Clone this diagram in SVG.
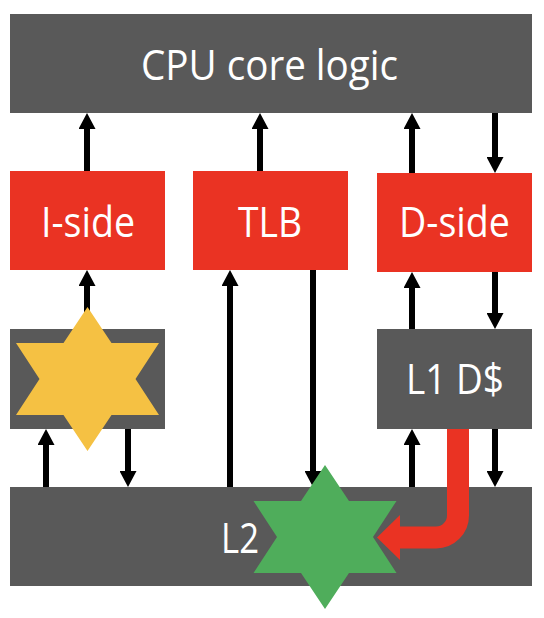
<svg xmlns="http://www.w3.org/2000/svg" width="544" height="618" viewBox="0 0 544 618">
<style>
.box{fill:#595959}
.red{fill:#EA3323}
.t{font-family:"Open Sans","Noto Sans",sans-serif;font-size:42px;fill:#ffffff;text-anchor:middle}
.a{stroke:#000;stroke-width:6;fill:none;marker-end:url(#ah)}
</style>
<defs>
<marker id="ah" viewBox="0 0 16 17" refX="0" refY="8.5" markerWidth="16" markerHeight="17" markerUnits="userSpaceOnUse" orient="auto">
<path d="M0,0 L16,8.5 L0,17 z" fill="#000"/>
</marker>
<polygon id="star" points="0,-72 24,-36 71.5,-36 48,0 71.5,36 24,36 0,72 -24,36 -71.5,36 -48,0 -71.5,-36 -24,-36"/>
</defs>
<g id="cpu"><rect class="box" x="10" y="14" width="522" height="99"/><text class="t" x="269.5" y="80" textLength="257" lengthAdjust="spacingAndGlyphs">CPU core logic</text></g>
<g id="iside"><rect class="red" x="10" y="171" width="155" height="99"/><text class="t" x="88" y="237" textLength="94" lengthAdjust="spacingAndGlyphs">I-side</text></g>
<g id="tlb"><rect class="red" x="193" y="171" width="155" height="99"/><text class="t" x="270" y="237" textLength="64" lengthAdjust="spacingAndGlyphs">TLB</text></g>
<g id="dside"><rect class="red" x="377" y="173" width="155" height="99"/><text class="t" x="454.5" y="237" textLength="111" lengthAdjust="spacingAndGlyphs">D-side</text></g>
<g id="icache"><rect class="box" x="10" y="329" width="155" height="100"/></g>
<g id="l1d"><rect class="box" x="377" y="329" width="155" height="100"/><text class="t" x="455" y="394" textLength="98" lengthAdjust="spacingAndGlyphs">L1 D$</text></g>
<g id="l2"><rect class="box" x="10" y="487" width="522" height="99"/><text class="t" x="221" y="553" style="text-anchor:start" textLength="38" lengthAdjust="spacingAndGlyphs">L2</text></g>
<g id="connectors">
<path class="a" d="M87,171 V129"/>
<path class="a" d="M260,171 V129"/>
<path class="a" d="M412,173 V129"/>
<path class="a" d="M495,113 V157"/>
<path class="a" d="M87,329 V286"/>
<path class="a" d="M230,487 V286"/>
<path class="a" d="M313,270 V471"/>
<path class="a" d="M412,329 V288"/>
<path class="a" d="M495,272 V313"/>
<path class="a" d="M46,487 V445"/>
<path class="a" d="M128,429 V471"/>
<path class="a" d="M412,487 V445"/>
<path class="a" d="M495,429 V471"/>
<path d="M458,429 V515.5 A22,22 0 0 1 436,537.5 H398" stroke="#EA3323" stroke-width="22" fill="none"/>
<polygon points="400,515 377,537.5 400,560" fill="#EA3323"/>
</g>
<g id="yellow-star"><use href="#star" x="87.5" y="379" fill="#F5C143"/></g>
<g id="green-star"><use href="#star" x="325" y="537" fill="#4FAD5B"/></g>
</svg>
